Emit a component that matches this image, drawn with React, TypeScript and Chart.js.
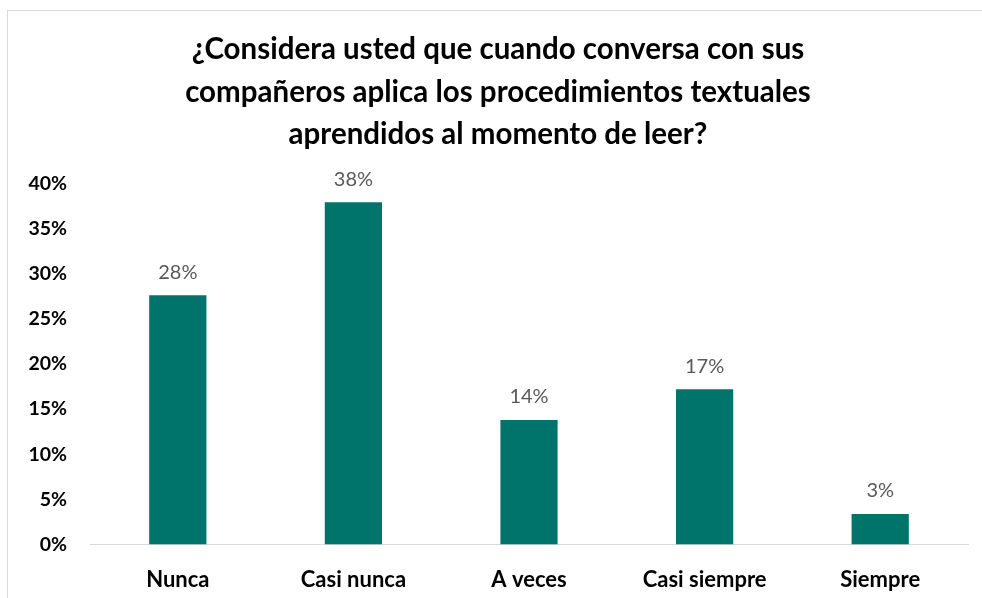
import React, { useEffect, useRef } from "react";
import { Chart, registerables } from "chart.js";

Chart.register(...registerables);

const categories = ["Nunca", "Casi nunca", "A veces", "Casi siempre", "Siempre"];
const values = [27.6, 37.9, 13.8, 17.2, 3.4];
const valueLabels = ["28%", "38%", "14%", "17%", "3%"];
const titleLines = [
  "¿Considera usted que cuando conversa con sus",
  "compañeros aplica los procedimientos textuales",
  "aprendidos al momento de leer?",
];
const FONT = "Lato, 'Open Sans', sans-serif";

const labelPlugin = {
  id: "barValueLabels",
  afterDatasetsDraw(chart: any) {
    const { ctx } = chart;
    const meta = chart.getDatasetMeta(0);
    ctx.save();
    ctx.font = `400 20px ${FONT}`;
    ctx.fillStyle = "#595959";
    ctx.textAlign = "center";
    ctx.textBaseline = "middle";
    meta.data.forEach((bar: any, i: number) => {
      ctx.fillText(valueLabels[i], bar.x, bar.y - 23);
    });
    ctx.restore();
  },
};

export default function App() {
  const ref = useRef<HTMLCanvasElement>(null);
  useEffect(() => {
    document.body.style.margin = "0";
    const chart = new Chart(ref.current!, {
      type: "bar",
      data: {
        labels: categories,
        datasets: [
          {
            data: values,
            backgroundColor: "#00746B",
            borderWidth: 0,
            categoryPercentage: 1,
            barPercentage: 0.326,
          },
        ],
      },
      options: {
        animation: false,
        responsive: false,
        maintainAspectRatio: false,
        layout: { padding: { top: 10, right: 14, bottom: 10, left: 28 } },
        plugins: {
          legend: { display: false },
          tooltip: { enabled: false },
          title: {
            display: true,
            text: titleLines,
            color: "#000000",
            font: { family: FONT, size: 29.5, weight: "bold", lineHeight: 1.45 },
            padding: { top: 18, bottom: 27 },
          },
        },
        scales: {
          x: {
            grid: { display: false, drawTicks: false },
            border: { display: true, color: "#d9d9d9", width: 1 },
            ticks: {
              color: "#000000",
              font: { family: FONT, size: 22, weight: "bold" },
              padding: 22,
              maxRotation: 0,
            },
          },
          y: {
            min: 0,
            max: 40,
            afterFit(scale: any) {
              scale.width = 62;
            },
            grid: { display: false, drawTicks: false },
            border: { display: false },
            ticks: {
              stepSize: 5,
              color: "#000000",
              font: { family: FONT, size: 19.5, weight: "bold" },
              padding: 23,
              callback: (v: any) => `${v}%`,
            },
          },
        },
      },
      plugins: [labelPlugin],
    });
    return () => chart.destroy();
  }, []);
  return (
    <div style={{ position: "relative", width: 982, height: 598, overflow: "hidden", background: "#fff" }}>
      <div
        style={{
          position: "absolute",
          left: 7,
          top: 10,
          width: 1000,
          height: 700,
          border: "1px solid #d9d9d9",
        }}
      />
      <canvas ref={ref} width={982} height={625} style={{ position: "absolute", left: 0, top: 0 }} />
    </div>
  );
}
